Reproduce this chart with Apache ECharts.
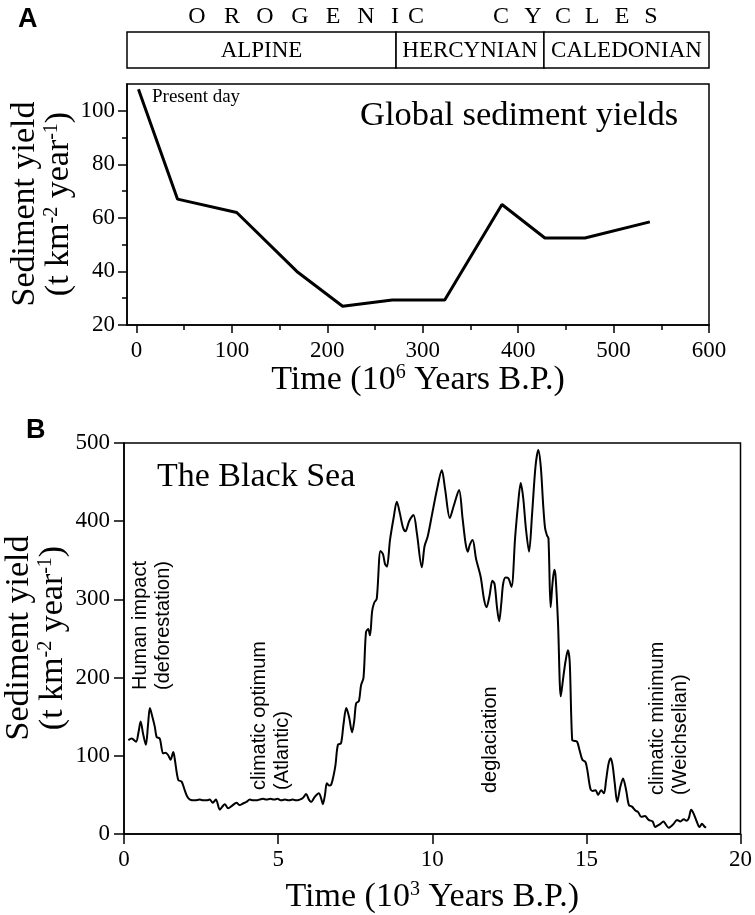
<!DOCTYPE html>
<html>
<head>
<meta charset="utf-8">
<script src="https://cdn.jsdelivr.net/npm/echarts@6/dist/echarts.min.js"></script>
<style>
  html, body { margin: 0; padding: 0; background: #fff; }
  #chart { width: 755px; height: 915px; }
</style>
</head>
<body>
<div id="chart"></div>
<script>
// ---- Panel A: global sediment yields (10^6 years B.P.) ----
const globalTime  = [2, 43, 105, 168, 216, 268, 323, 383, 428, 470, 538];
const globalYield = [108, 67, 62, 40, 27, 29.3, 29.3, 65, 52.5, 52.5, 58.5];
const globalTimeTicks  = [0, 100, 200, 300, 400, 500, 600];
const globalTimeMinor  = [50, 150, 250, 350, 450, 550];
const globalYieldTicks = [20, 40, 60, 80, 100];
const globalYieldMinor = [30, 50, 70, 90];

// Orogenic cycles (10^6 years B.P.)
const cycleNames = ['ALPINE', 'HERCYNIAN', 'CALEDONIAN'];
const cycleStart = [-10, 272, 427];
const cycleEnd   = [272, 427, 600];

// ---- Panel B: Black Sea sediment yield (10^3 years B.P.) ----
const blackSeaTime = [
  0.14, 0.25, 0.39, 0.47, 0.54, 0.62, 0.71, 0.78, 0.84, 0.92, 1.0, 1.06, 1.16, 1.27, 1.35, 1.43, 1.51, 1.6, 1.65, 1.76,
  1.87, 1.97, 2.05, 2.14, 2.3, 2.46, 2.57, 2.68, 2.78, 2.88, 2.98, 3.11, 3.19, 3.27, 3.38, 3.5, 3.65, 3.75, 3.86, 3.97,
  4.08, 4.19, 4.29, 4.4, 4.51, 4.62, 4.75, 4.87, 4.98, 5.1, 5.22, 5.35, 5.47, 5.59, 5.7, 5.8, 5.91, 6.0, 6.07, 6.18,
  6.32, 6.4, 6.45, 6.52, 6.58, 6.65, 6.72, 6.8, 6.86, 6.94, 7.04, 7.12, 7.21, 7.3, 7.4, 7.47, 7.53, 7.62, 7.69, 7.77,
  7.85, 7.92, 7.98, 8.05, 8.12, 8.2, 8.32, 8.4, 8.47, 8.53, 8.63, 8.75, 8.85, 8.95, 9.05, 9.13, 9.25, 9.39, 9.5, 9.66,
  9.75, 9.85, 10.0, 10.15, 10.31, 10.42, 10.57, 10.7, 10.87, 10.98, 11.08, 11.15, 11.22, 11.31, 11.42, 11.57, 11.68, 11.76, 11.86, 11.95,
  12.02, 12.1, 12.17, 12.24, 12.3, 12.38, 12.47, 12.57, 12.69, 12.78, 12.87, 12.95, 13.04, 13.14, 13.24, 13.35, 13.44, 13.52, 13.6, 13.66,
  13.72, 13.77, 13.84, 13.9, 13.96, 14.0, 14.08, 14.17, 14.25, 14.32, 14.4, 14.46, 14.54, 14.62, 14.7, 14.78, 14.87, 14.97, 15.03, 15.13,
  15.21, 15.3, 15.38, 15.48, 15.57, 15.64, 15.72, 15.79, 15.85, 15.92, 16.0, 16.1, 16.19, 16.29, 16.38, 16.48, 16.59, 16.68, 16.78, 16.9,
  17.02, 17.15, 17.23, 17.32, 17.4, 17.5, 17.58, 17.67, 17.75, 17.83, 17.94, 18.05, 18.16, 18.25, 18.32, 18.4, 18.48, 18.58, 18.67, 18.75,
  18.82, 18.88
];
const blackSeaYield = [
  120, 122, 118, 130, 144, 128, 114, 140, 161, 150, 137, 124, 122, 103, 104, 101, 95, 105, 95, 69,
  67, 56, 48, 44, 43, 44, 43, 43, 44, 40, 44, 31, 35, 38, 33, 36, 40, 37, 39, 41,
  44, 43, 43, 44, 45, 44, 45, 44, 45, 43, 44, 43, 44, 43, 44, 46, 51, 44, 41, 47,
  52, 45, 38, 50, 65, 62, 63, 75, 88, 114, 116, 140, 161, 150, 130, 145, 167, 170, 190, 200,
  258, 262, 254, 285, 296, 301, 362, 358, 345, 342, 376, 405, 425, 410, 392, 387, 400, 408, 385, 341,
  368, 380, 410, 440, 465, 440, 404, 420, 440, 405, 372, 361, 370, 376, 352, 329, 300, 290, 305, 324,
  320, 290, 272, 295, 320, 328, 327, 316, 380, 420, 449, 430, 390, 361, 410, 470, 491, 470, 420, 391,
  382, 378, 290, 320, 338, 330, 270, 176, 200, 220, 235, 220, 120, 119, 118, 107, 95, 92, 82, 58,
  55, 56, 50, 56, 52, 69, 90, 97, 88, 65, 41, 60, 71, 56, 37, 35, 30, 28, 22, 23,
  18, 16, 9, 11, 13, 16, 12, 8, 10, 13, 18, 16, 19, 17, 20, 31, 26, 16, 9, 13,
  10, 8
];
const blackSeaTimeTicks  = [0, 5, 10, 15, 20];
const blackSeaYieldTicks = [0, 100, 200, 300, 400, 500];

const SERIF = 'Liberation Serif';
const SANS = 'Liberation Sans';
const INK = '#000';

const tickLabel = { color: INK, fontFamily: SERIF, fontSize: 23 };

// Letter-spaced heading above the cycle boxes
const headingLetters = 'OROGENICCYCLES'.split('');
const headingX = [197, 232, 265, 300, 333, 366, 395, 416, 501, 533, 563, 592, 622, 651];

const graphics = [];
headingLetters.forEach((ch, i) => {
  graphics.push({
    type: 'text', x: headingX[i], y: 17,
    style: { text: ch, font: '24px ' + SERIF, fill: INK, align: 'center', verticalAlign: 'middle' }
  });
});

const supRich = {
  sup: { fontFamily: SERIF, fontSize: 20, verticalAlign: 'top', color: INK, fill: INK, lineHeight: 34 }
};

function yName(x, y) {
  return {
    type: 'text', x: x, y: y, rotation: Math.PI / 2,
    style: {
      text: 'Sediment yield\n(t km{sup|-2} year{sup|-1})',
      font: '34px ' + SERIF, fill: INK, align: 'center', verticalAlign: 'middle',
      lineHeight: 34, rich: supRich
    }
  };
}

function note(x, y, text) {
  return {
    type: 'text', x: x, y: y, rotation: Math.PI / 2,
    style: { text: text, font: '20px ' + SANS, fill: INK, align: 'left', verticalAlign: 'middle', lineHeight: 23 }
  };
}

graphics.push(
  { type: 'text', x: 18, y: 20, style: { text: 'A', font: 'bold 27px ' + SANS, fill: INK, verticalAlign: 'middle' } },
  { type: 'text', x: 26, y: 431, style: { text: 'B', font: 'bold 27px ' + SANS, fill: INK, verticalAlign: 'middle' } },
  { type: 'text', x: 360, y: 116, style: { text: 'Global sediment yields', font: '34.5px ' + SERIF, fill: INK, verticalAlign: 'middle' } },
  { type: 'text', x: 152, y: 97, style: { text: 'Present day', font: '19px ' + SERIF, fill: INK, verticalAlign: 'middle' } },
  { type: 'text', x: 157, y: 477, style: { text: 'The Black Sea', font: '34px ' + SERIF, fill: INK, verticalAlign: 'middle' } },
  yName(42, 204),
  yName(36, 638),
  note(152, 690, 'Human impact\n(deforestation)'),
  note(271, 790, 'climatic optimum\n(Atlantic)'),
  note(490, 793, 'deglaciation'),
  note(669, 795, 'climatic minimum\n(Weichselian)')
);

const axisLine = { show: true, onZero: false, lineStyle: { color: INK, width: 1.5 } };
const hiddenLine = { show: false, onZero: false };

const option = {
  animation: false,
  backgroundColor: '#fff',
  grid: [
    { left: 127, top: 32, width: 582, height: 36 },
    { left: 127, top: 84, width: 582, height: 241, show: true, borderColor: INK, borderWidth: 1.5, backgroundColor: 'transparent' },
    { left: 124, top: 443, width: 618, height: 391, show: true, borderColor: INK, borderWidth: 1.5, backgroundColor: 'transparent' }
  ],
  xAxis: [
    { gridIndex: 0, type: 'value', min: -10, max: 600, show: false },
    {
      gridIndex: 1, type: 'value', min: -10, max: 600, position: 'bottom',
      axisLine: axisLine,
      axisTick: { show: true, customValues: globalTimeTicks, length: 8, lineStyle: { color: INK, width: 1.5 } },
      axisLabel: { customValues: globalTimeTicks, margin: 14, ...tickLabel },
      splitLine: { show: false },
      name: 'Time (10{sup|6} Years B.P.)', nameLocation: 'middle', nameGap: 38,
      nameTextStyle: { color: INK, fontFamily: SERIF, fontSize: 34, lineHeight: 34, rich: supRich }
    },
    {
      gridIndex: 1, type: 'value', min: -10, max: 600, position: 'bottom',
      axisLine: hiddenLine,
      axisTick: { show: true, customValues: globalTimeMinor, length: 5, lineStyle: { color: INK, width: 1.5 } },
      axisLabel: { show: false },
      splitLine: { show: false }
    },
    {
      gridIndex: 2, type: 'value', min: 0, max: 20, interval: 5, position: 'bottom',
      axisLine: axisLine,
      axisTick: { show: true, customValues: blackSeaTimeTicks, length: 10, lineStyle: { color: INK, width: 1.5 } },
      axisLabel: { customValues: blackSeaTimeTicks, margin: 14, ...tickLabel },
      splitLine: { show: false },
      name: 'Time (10{sup|3} Years B.P.)', nameLocation: 'middle', nameGap: 46,
      nameTextStyle: { color: INK, fontFamily: SERIF, fontSize: 34, lineHeight: 34, rich: supRich }
    }
  ],
  yAxis: [
    { gridIndex: 0, type: 'value', min: 0, max: 1, show: false },
    {
      gridIndex: 1, type: 'value', min: 20, max: 110, position: 'left',
      axisLine: axisLine,
      axisTick: { show: true, customValues: globalYieldTicks, length: 9, lineStyle: { color: INK, width: 1.5 } },
      axisLabel: { customValues: globalYieldTicks, margin: 12, ...tickLabel },
      splitLine: { show: false }
    },
    {
      gridIndex: 1, type: 'value', min: 20, max: 110, position: 'left',
      axisLine: hiddenLine,
      axisTick: { show: true, customValues: globalYieldMinor, length: 5, lineStyle: { color: INK, width: 1.5 } },
      axisLabel: { show: false },
      splitLine: { show: false }
    },
    {
      gridIndex: 2, type: 'value', min: 0, max: 500, interval: 100, position: 'left',
      axisLine: axisLine,
      axisTick: { show: true, customValues: blackSeaYieldTicks, length: 10, lineStyle: { color: INK, width: 1.5 } },
      axisLabel: { customValues: blackSeaYieldTicks, margin: 14, ...tickLabel },
      splitLine: { show: false }
    }
  ],
  series: [
    {
      type: 'custom', xAxisIndex: 0, yAxisIndex: 0,
      data: cycleNames.map((n, i) => [cycleStart[i], cycleEnd[i]]),
      renderItem: function (params, api) {
        const p0 = api.coord([api.value(0), 1]);
        const p1 = api.coord([api.value(1), 0]);
        return {
          type: 'group',
          children: [
            { type: 'rect', shape: { x: p0[0], y: p0[1], width: p1[0] - p0[0], height: p1[1] - p0[1] },
              style: { fill: '#fff', stroke: INK, lineWidth: 1.5 } },
            { type: 'text', x: (p0[0] + p1[0]) / 2, y: (p0[1] + p1[1]) / 2 + 1,
              style: { text: cycleNames[params.dataIndex], font: '23px ' + SERIF, fill: INK, align: 'center', verticalAlign: 'middle' } }
          ]
        };
      }
    },
    {
      type: 'line', xAxisIndex: 1, yAxisIndex: 1,
      data: globalTime.map((t, i) => [t, globalYield[i]]),
      symbol: 'none', lineStyle: { color: INK, width: 3 }, z: 3
    },
    {
      type: 'line', xAxisIndex: 3, yAxisIndex: 3,
      data: blackSeaTime.map((t, i) => [t, blackSeaYield[i]]),
      symbol: 'none', smooth: 0.3, lineStyle: { color: INK, width: 2 }, z: 3
    }
  ],
  graphic: graphics
};

const chart = echarts.init(document.getElementById('chart'), null, { renderer: 'canvas' });
chart.setOption(option);
</script>
</body>
</html>
